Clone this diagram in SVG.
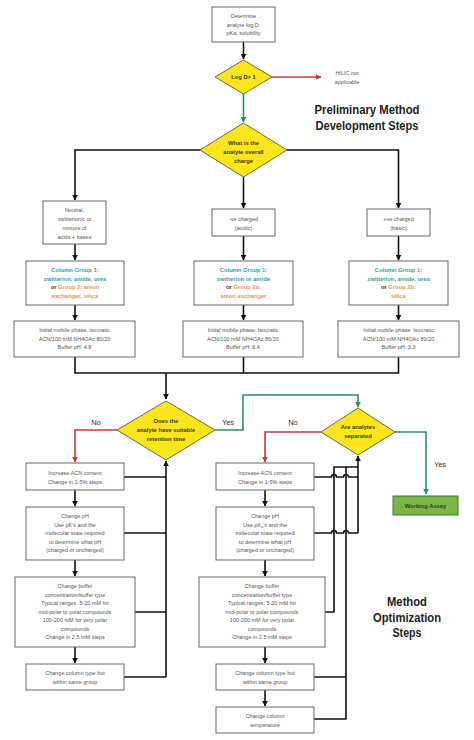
<svg xmlns="http://www.w3.org/2000/svg" width="474" height="740" viewBox="0 0 474 740">
<defs>
<marker id="ak" viewBox="0 0 10 10" refX="9" refY="5" markerWidth="6" markerHeight="6" markerUnits="userSpaceOnUse" orient="auto"><path d="M0,0 L10,5 L0,10 z" fill="#111"/></marker>
<marker id="ar" viewBox="0 0 10 10" refX="9" refY="5" markerWidth="6" markerHeight="6" markerUnits="userSpaceOnUse" orient="auto"><path d="M0,0 L10,5 L0,10 z" fill="#c8383c"/></marker>
<marker id="ag" viewBox="0 0 10 10" refX="9" refY="5" markerWidth="6" markerHeight="6" markerUnits="userSpaceOnUse" orient="auto"><path d="M0,0 L10,5 L0,10 z" fill="#23935e"/></marker>
</defs>
<style>
.box{fill:#fff;stroke:#666;stroke-width:1}
.dia{fill:#fbe51c;stroke:#6a6a3a;stroke-width:1}
.t{font-family:"Liberation Sans Narrow","Liberation Sans",Arial,sans-serif;font-size:5.5px;fill:#555;text-anchor:middle}
.d{font-family:"Liberation Sans Narrow","Liberation Sans",Arial,sans-serif;font-size:5.8px;font-weight:bold;fill:#3a3a1a;text-anchor:middle}
.cg{font-family:"Liberation Sans Narrow","Liberation Sans",Arial,sans-serif;font-size:5.8px;font-weight:bold;fill:#2fa39e;text-anchor:middle}
.or{fill:#e8935c}
.bk{fill:#333}
.h{font-family:"Liberation Sans Narrow","Liberation Sans",Arial,sans-serif;font-size:13.5px;font-weight:bold;fill:#222;text-anchor:middle}
.lab{font-family:"Liberation Sans Narrow","Liberation Sans",Arial,sans-serif;font-size:7.5px;fill:#333;text-anchor:middle}
.k{fill:none;stroke:#111;stroke-width:1.6}
.r{fill:none;stroke:#c8383c;stroke-width:1.6}
.g{fill:none;stroke:#23935e;stroke-width:1.6}
</style>
<rect width="474" height="740" fill="#fff"/>

<g id="connectors">
<path class="k" d="M243.5,42 V59" marker-end="url(#ak)"/>
<path class="r" d="M272,77 H321" marker-end="url(#ar)"/>
<path class="g" d="M243.5,94 V122" marker-end="url(#ag)"/>
<path class="k" d="M200,150 H75 V200" marker-end="url(#ak)"/>
<path class="k" d="M243.5,177 V208" marker-end="url(#ak)"/>
<path class="k" d="M287,150 H398.5 V208" marker-end="url(#ak)"/>
<path class="k" d="M75,244 V260" marker-end="url(#ak)"/>
<path class="k" d="M243.5,236 V260" marker-end="url(#ak)"/>
<path class="k" d="M398.5,236 V260" marker-end="url(#ak)"/>
<path class="k" d="M75,305 V320" marker-end="url(#ak)"/>
<path class="k" d="M243.5,305 V320" marker-end="url(#ak)"/>
<path class="k" d="M398.5,305 V320" marker-end="url(#ak)"/>
<path class="k" d="M75,357 V373 H398.5 V357 M243.5,357 V373"/>
<path class="k" d="M166,373 V399" marker-end="url(#ak)"/>
<path class="r" d="M117,430 H75 V462" marker-end="url(#ar)"/>
<path class="g" d="M215,430 H243 V395 H358 V407" marker-end="url(#ag)"/>
<path class="r" d="M321,432 H265 V462" marker-end="url(#ar)"/>
<path class="g" d="M395,432 H426 V494" marker-end="url(#ag)"/>
<path class="k" d="M75,490 V506" marker-end="url(#ak)"/>
<path class="k" d="M75,560 V576" marker-end="url(#ak)"/>
<path class="k" d="M75,647 V663" marker-end="url(#ak)"/>
<path class="k" d="M124,477 H166 M124,533 H166 M135,612 H166 M124,677 H166"/>
<path class="k" d="M166,677 V461" marker-end="url(#ak)"/>
<path class="k" d="M265,490 V506" marker-end="url(#ak)"/>
<path class="k" d="M265,560 V576" marker-end="url(#ak)"/>
<path class="k" d="M265,647 V663" marker-end="url(#ak)"/>
<path class="k" d="M265,690 V706" marker-end="url(#ak)"/>
<path class="k" d="M314,477 H331.5 a2.5,2.5 0 0 1 5,0 H343.5 a2.5,2.5 0 0 1 5,0 H358"/>
<path class="k" d="M314,533 H331.5 a2.5,2.5 0 0 1 5,0 H343.5 a2.5,2.5 0 0 1 5,0 H358"/>
<path class="k" d="M325,612 H334 V467 H358 M314,677 H346 M314,719 H346 V467"/>
<path class="k" d="M358,533 V456" marker-end="url(#ak)"/>
</g>

<g id="n-determine"><rect class="box" x="212" y="7" width="63" height="35"/>
<text class="t" x="243.5" y="18">Determine</text><text class="t" x="243.5" y="26.5">analyte log D,</text><text class="t" x="243.5" y="35">pKa, solubility</text></g>

<g id="n-logd"><polygon class="dia" points="243.5,60 272,77 243.5,94 215,77"/>
<text class="d" x="243.5" y="79">Log D&gt; 1</text></g>

<g id="n-hilic"><text class="t" x="347" y="75">HILIC not</text><text class="t" x="347" y="84">applicable</text></g>

<g id="title-prelim"><text class="h" x="367" y="114" textLength="105" lengthAdjust="spacingAndGlyphs">Preliminary Method</text><text class="h" x="367" y="130" textLength="103" lengthAdjust="spacingAndGlyphs">Development Steps</text></g>

<g id="n-charge"><polygon class="dia" points="243.5,123 287,150 243.5,177 200,150"/>
<text class="d" x="243.5" y="145">What is the</text><text class="d" x="243.5" y="154">analyte overall</text><text class="d" x="243.5" y="163">charge</text></g>

<g id="n-neutral"><rect class="box" x="43" y="201" width="63" height="43"/>
<text class="t" x="74.5" y="212">Neutral,</text><text class="t" x="74.5" y="221">zwitterionic or</text><text class="t" x="74.5" y="230">mixture of</text><text class="t" x="74.5" y="239">acids + bases</text></g>

<g id="n-neg"><rect class="box" x="212" y="209" width="63" height="27"/>
<text class="t" x="243.5" y="221">-ve charged</text><text class="t" x="243.5" y="230">(acidic)</text></g>

<g id="n-pos"><rect class="box" x="367" y="209" width="63" height="27"/>
<text class="t" x="398.5" y="221">+ve charged</text><text class="t" x="398.5" y="230">(basic)</text></g>

<g id="n-cg-left"><rect class="box" x="26" y="261" width="98" height="44"/>
<text class="cg" x="75" y="272">Column Group 1:</text><text class="cg" x="75" y="280.5">zwitterion, amide, urea</text>
<text class="cg" x="75" y="289"><tspan class="bk">or</tspan> <tspan class="or">Group 2: anion</tspan></text><text class="cg or" x="75" y="297.5">exchanger, silica</text></g>

<g id="n-cg-mid"><rect class="box" x="194" y="261" width="99" height="44"/>
<text class="cg" x="243.5" y="272">Column Group 1:</text><text class="cg" x="243.5" y="280.5">zwitterion or amide</text>
<text class="cg" x="243.5" y="289"><tspan class="bk">or</tspan> <tspan class="or">Group 2a:</tspan></text><text class="cg or" x="243.5" y="297.5">anion exchanger</text></g>

<g id="n-cg-right"><rect class="box" x="349" y="261" width="99" height="44"/>
<text class="cg" x="398.5" y="272">Column Group 1:</text><text class="cg" x="398.5" y="280.5">zwitterion, amide, urea</text>
<text class="cg" x="398.5" y="289"><tspan class="bk">or</tspan> <tspan class="or">Group 2b:</tspan></text><text class="cg or" x="398.5" y="297.5">silica</text></g>

<g id="n-mp-left"><rect class="box" x="14" y="321" width="121" height="36"/>
<text class="t" x="74.5" y="332">Initial mobile phase: Isocratic</text><text class="t" x="74.5" y="340.5">ACN/100 mM NH4OAc 80/20</text><text class="t" x="74.5" y="349">Buffer pH: 4.8</text></g>

<g id="n-mp-mid"><rect class="box" x="183" y="321" width="120" height="36"/>
<text class="t" x="243" y="332">Initial mobile phase: Isocratic</text><text class="t" x="243" y="340.5">ACN/100 mM NH4OAc 80/20</text><text class="t" x="243" y="349">Buffer pH: 6.4</text></g>

<g id="n-mp-right"><rect class="box" x="338" y="321" width="121" height="36"/>
<text class="t" x="398.5" y="332">Initial mobile phase: Isocratic</text><text class="t" x="398.5" y="340.5">ACN/100 mM NH4OAc 80/20</text><text class="t" x="398.5" y="349">Buffer pH: 3.3</text></g>

<g id="n-retention"><polygon class="dia" points="166,401 215,430 166,460 117,430"/>
<text class="d" x="166" y="423">Does the</text><text class="d" x="166" y="432">analyte have suitable</text><text class="d" x="166" y="440.5">retention time</text></g>

<g id="lbl-no1"><text class="lab" x="96" y="425">No</text></g>
<g id="lbl-yes1"><text class="lab" x="228" y="425">Yes</text></g>
<g id="lbl-no2"><text class="lab" x="293" y="425">No</text></g>
<g id="lbl-yes2"><text class="lab" x="440" y="467">Yes</text></g>

<g id="n-separated"><polygon class="dia" points="358,408 395,432 358,455 321,432"/>
<text class="d" x="358" y="429">Are analytes</text><text class="d" x="358" y="438">separated</text></g>

<g id="n-working"><rect x="393" y="496" width="65" height="19" fill="#79b64a" stroke="#3f7a2a" stroke-width="1"/>
<text class="d" x="425.5" y="507.5" fill="#1e3512">Working Assay</text></g>

<g id="n-l-acn"><rect class="box" x="26" y="463" width="98" height="27"/>
<text class="t" x="75" y="475">Increase ACN content</text><text class="t" x="75" y="483.5">Change in 1-5% steps</text></g>

<g id="n-l-ph"><rect class="box" x="26" y="507" width="98" height="53"/>
<text class="t" x="75" y="518">Change pH</text><text class="t" x="75" y="526.5">Use pK's and the</text><text class="t" x="75" y="535">molecular state required</text><text class="t" x="75" y="543.5">to determine what pH</text><text class="t" x="75" y="552">(charged or uncharged)</text></g>

<g id="n-l-buffer"><rect class="box" x="15" y="577" width="120" height="70"/>
<text class="t" x="75" y="588">Change buffer</text><text class="t" x="75" y="596.5">concentration/buffer type</text><text class="t" x="75" y="605">Typical ranges: 5-20 mM for</text><text class="t" x="75" y="613.5">mid-polar to polar compounds</text><text class="t" x="75" y="622">100-200 mM for very polar</text><text class="t" x="75" y="630.5">compounds</text><text class="t" x="75" y="639">Change in 2.5 mM steps</text></g>

<g id="n-l-column"><rect class="box" x="26" y="664" width="98" height="26"/>
<text class="t" x="75" y="675">Change column type but</text><text class="t" x="75" y="684">within same group</text></g>

<g id="n-r-acn"><rect class="box" x="216" y="463" width="98" height="27"/>
<text class="t" x="265" y="475">Increase ACN content</text><text class="t" x="265" y="483.5">Change in 1-5% steps</text></g>

<g id="n-r-ph"><rect class="box" x="216" y="507" width="98" height="53"/>
<text class="t" x="265" y="518">Change pH</text><text class="t" x="265" y="526.5">Use pK<tspan font-size="4" dy="1">a</tspan><tspan dy="-1">'s and the</tspan></text><text class="t" x="265" y="535">molecular state required</text><text class="t" x="265" y="543.5">to determine what pH</text><text class="t" x="265" y="552">(charged or uncharged)</text></g>

<g id="n-r-buffer"><rect class="box" x="199" y="577" width="126" height="70"/>
<text class="t" x="262" y="588">Change buffer</text><text class="t" x="262" y="596.5">concentration/buffer type</text><text class="t" x="262" y="605">Typical ranges: 5-20 mM for</text><text class="t" x="262" y="613.5">mid-polar to polar compounds</text><text class="t" x="262" y="622">100-200 mM for very polar</text><text class="t" x="262" y="630.5">compounds</text><text class="t" x="262" y="639">Change in 2.5 mM steps</text></g>

<g id="n-r-column"><rect class="box" x="216" y="664" width="98" height="26"/>
<text class="t" x="265" y="675">Change column type but</text><text class="t" x="265" y="684">within same group</text></g>

<g id="n-r-temp"><rect class="box" x="216" y="707" width="98" height="26"/>
<text class="t" x="265" y="718">Change column</text><text class="t" x="265" y="727">temperature</text></g>

<g id="title-opt"><text class="h" x="407" y="606" textLength="40" lengthAdjust="spacingAndGlyphs">Method</text><text class="h" x="407" y="621.5" textLength="68" lengthAdjust="spacingAndGlyphs">Optimization</text><text class="h" x="407" y="637" textLength="29" lengthAdjust="spacingAndGlyphs">Steps</text></g>
</svg>
